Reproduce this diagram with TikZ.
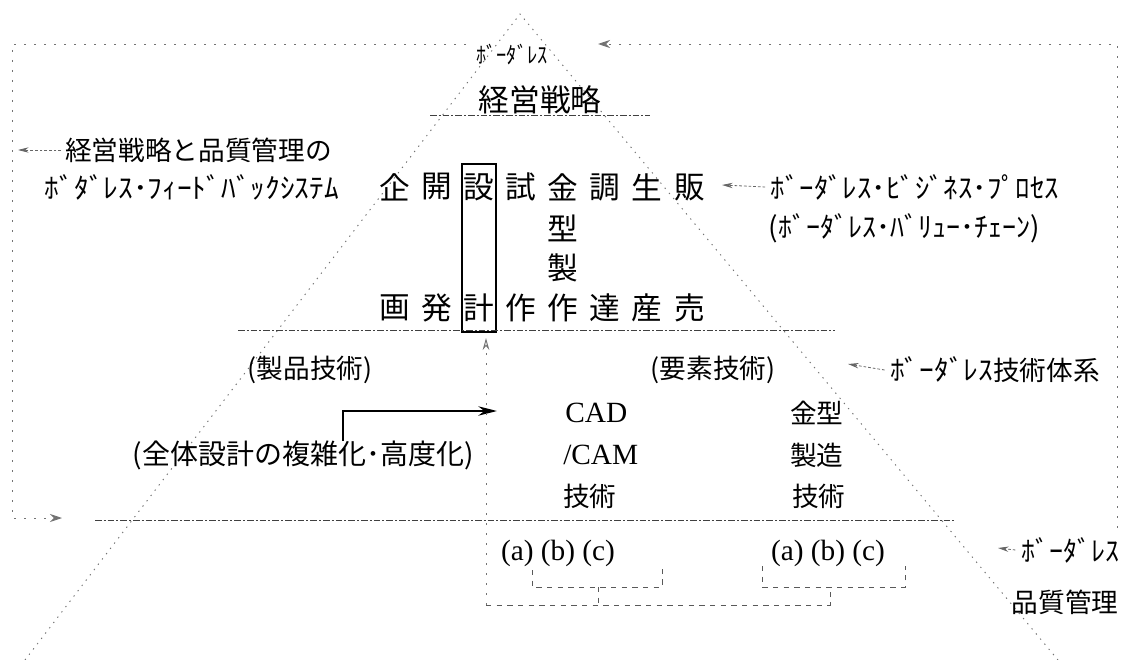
\documentclass[tikz,border=0pt]{standalone}
\usepackage{fontspec}
\setmainfont{Liberation Serif}
\newfontfamily\jpf{Noto Sans CJK JP}
\usetikzlibrary{arrows.meta}
\begin{document}
\begin{tikzpicture}[x=0.75pt,y=-0.75pt,
  tri/.style={draw=black!55,line width=0.7pt,dash pattern=on 1pt off 4pt},
  hline/.style={draw=black!75,line width=0.7pt,dash pattern=on 5pt off 1.5pt on 1.5pt off 1.5pt},
  loopl/.style={draw=black!55,line width=0.7pt,dash pattern=on 1.5pt off 6pt},
  brk/.style={draw=black!65,line width=0.6pt,dash pattern=on 4pt off 4pt},
  smallarr/.style={draw=black!60,line width=0.6pt,dash pattern=on 2pt off 1.5pt,-{Stealth[length=8pt,width=4pt]}},
  big/.style={font=\jpf\fontsize{23}{27}\selectfont,inner sep=0pt},
  mid/.style={font=\jpf\fontsize{20}{24}\selectfont,inner sep=0pt},
  hwk/.style={font=\jpf\fontsize{21}{25}\selectfont,inner sep=0pt},
  lat/.style={font=\fontsize{22}{26}\selectfont,inner sep=0pt},
]
\useasboundingbox (0,0) rectangle (1147,660);
% triangle
\coordinate (apex) at (520,14);
\coordinate (fl) at (25,660);
\coordinate (fr) at (1058,660);
\draw[tri] (fl) -- (apex) -- (fr);
% outer feedback loop
\coordinate (tl) at (12,44);
\coordinate (tlg) at (466,44);
\coordinate (tr) at (1117,44);
\coordinate (trg) at (598,44);
\coordinate (bl) at (12,518);
\coordinate (blend) at (62,518);
\coordinate (rb) at (1117,528);
\draw[loopl,-{Stealth[length=9pt,width=6pt]}] (tlg) -- (tl) -- (bl) -- (blend);
\draw[loopl,-{Stealth[length=9pt,width=6pt]}] (rb) -- (tr) -- (trg);
% top texts
\node[font=\jpf\fontsize{17}{20}\selectfont,inner sep=0pt] (tb) at (512,55) {\scalebox{0.9}[1]{ﾎﾞｰﾀﾞﾚｽ}};
\node[big] (ks) at (540,100) {経営戦略};
\coordinate (ksl) at (430,115);
\coordinate (ksr) at (650,115);
\draw[hline] (ksl) -- (ksr);
% left labels
\node[mid,anchor=west] (la) at (65,150) {経営戦略と品質管理の};
\coordinate (laE) at (18,150);
\draw[smallarr] ([xshift=-3pt]la.west) -- (laE);
\node[hwk] (lb) at (192,187) {\scalebox{1.05}[1]{ﾎﾞﾀﾞﾚｽ･ﾌｨｰﾄﾞﾊﾞｯｸｼｽﾃﾑ}};
% process rows
\foreach \t/\x [count=\i] in {企/395,開/437,設/479,試/521,金/563,調/605,生/647,販/690}
  \node[big] (u\i) at (\x,187) {\t};
\node[big] (kata) at (563,228) {型};
\node[big] (sei) at (563,268) {製};
\foreach \t/\x [count=\i] in {画/395,発/437,計/479,作/521,作/563,達/605,産/647,売/690}
  \node[big] (l\i) at (\x,308) {\t};
\node[draw,line width=1.5pt,minimum width=25.5pt,minimum height=126pt,inner sep=0pt] (dbox) at (479,248) {};
% right labels
\node[hwk] (bp) at (915,187) {\scalebox{1.03}[1]{ﾎﾞｰﾀﾞﾚｽ･ﾋﾞｼﾞﾈｽ･ﾌﾟﾛｾｽ}};
\coordinate (bpE) at (722,185);
\draw[smallarr] ([xshift=-4pt]bp.west) -- (bpE);
\node[hwk] (vc) at (904,228) {\scalebox{1.0}[1]{(ﾎﾞｰﾀﾞﾚｽ･ﾊﾞﾘｭｰ･ﾁｪｰﾝ)}};
% middle line
\coordinate (m1) at (238,330);
\coordinate (m2) at (835,330);
\draw[hline] (m1) -- (m2);
\node[mid] (sg) at (310,370) {(製品技術)};
\node[mid] (yg) at (713,370) {(要素技術)};
\node[mid] (bt) at (995,370) {\scalebox{1.05}[1]{\fontsize{21}{25}\selectfont ﾎﾞｰﾀﾞﾚｽ}技術体系};
\coordinate (btE) at (848,364);
\draw[smallarr] ([xshift=-4pt]bt.west) -- (btE);
% element technologies
\node[lat,anchor=west] (cad) at (565,413) {CAD};
\node[lat,anchor=west] (cam) at (563,455) {/CAM};
\node[mid,anchor=west] (gj1) at (563,496) {技術};
\node[mid,anchor=west] (kg) at (790,413) {金型};
\node[mid,anchor=west] (sz) at (790,455) {製造};
\node[mid,anchor=west] (gj2) at (792,496) {技術};
\node[font=\jpf\fontsize{21}{25}\selectfont,inner sep=0pt,anchor=east] (zt) at (474,455) {(全体設計の複雑化･高度化)};
% thick arrow
\coordinate (s0) at (343,441);
\coordinate (s1) at (497,411);
\draw[line width=1.6pt,-{Stealth[length=14pt,width=7pt]}] (s0) |- (s1);
% lower line
\coordinate (b1) at (95,520);
\coordinate (b2) at (955,520);
\draw[hline] (b1) -- (b2);
\node[lat] (abc1) at (558,553) {(a) (b) (c)};
\node[lat] (abc2) at (828,553) {(a) (b) (c)};
\node[hwk] (bq) at (1070,550) {ﾎﾞｰﾀﾞﾚｽ};
\coordinate (bqE) at (998,548);
\draw[smallarr] ([xshift=-4pt]bq.west) -- (bqE);
\node[mid] (qm) at (1065,602) {品質管理};
% feedback brackets
\coordinate (v0) at (486,605);
\coordinate (v1) at (486,338);
\draw[loopl,-{Stealth[open,length=9pt,width=5pt]}] (v0) -- (v1);
\coordinate (hb) at (830,605);
\draw[brk] (v0) -- (hb) -- (830,587);
\draw[brk] (532,570) -- (532,587) -- (662,587) -- (662,566);
\draw[brk] (598,587) -- (598,605);
\draw[brk] (762,566) -- (762,587) -- (905,587) -- (905,566);
\end{tikzpicture}
\end{document}
